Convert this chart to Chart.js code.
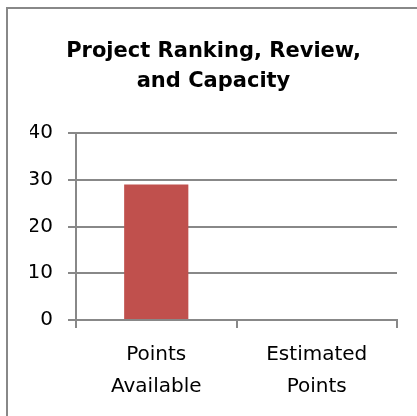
<!DOCTYPE html>
<html>
<head>
<meta charset="utf-8">
<script src="https://cdn.jsdelivr.net/npm/chart.js@4"></script>
<style>
  html, body { margin: 0; padding: 0; background: #ffffff; }
  #wrap { width: 417px; height: 416px; position: relative; }
</style>
</head>
<body>
<div id="wrap"><canvas id="c" width="417" height="416"></canvas></div>
<script>
const titleLines = ["Project Ranking, Review,", "and Capacity"];
const categories = [["Points", "Available"], ["Estimated", "Points"]];
const seriesValues = [29, 0];
const yTicks = [0, 10, 20, 30, 40];

const gray = '#888888';

const frame = {
  id: 'frame',
  afterDraw(chart) {
    const ctx = chart.ctx;
    ctx.save();
    ctx.strokeStyle = gray;
    ctx.lineWidth = 2;
    ctx.strokeRect(7, 8, 440, 440);
    ctx.restore();
  }
};

new Chart(document.getElementById('c'), {
  type: 'bar',
  data: {
    labels: categories,
    datasets: [{
      data: seriesValues,
      backgroundColor: '#C0504D',
      borderWidth: 0,
      categoryPercentage: 1.0,
      barPercentage: 0.4
    }]
  },
  options: {
    responsive: false,
    animation: false,
    layout: { padding: { left: 30, right: 20, top: 0, bottom: 0 } },
    plugins: {
      legend: { display: false },
      tooltip: { enabled: false },
      title: {
        display: true,
        text: titleLines,
        color: '#000000',
        font: { family: 'DejaVu Sans', weight: 'bold', size: 21, lineHeight: 30 / 21 },
        padding: { top: 37, bottom: 36 }
      }
    },
    scales: {
      x: {
        grid: { offset: true, drawOnChartArea: false, drawTicks: true, tickLength: 8, color: gray, lineWidth: 2 },
        border: { display: true, color: gray, width: 2 },
        ticks: {
          color: '#000000',
          padding: 11,
          maxRotation: 0,
          autoSkip: false,
          font: { family: 'DejaVu Sans', size: 20, lineHeight: 32 / 20 }
        },
        afterFit(scale) { scale.height = 96; }
      },
      y: {
        min: yTicks[0],
        max: yTicks[yTicks.length - 1],
        afterBuildTicks(scale) { scale.ticks = yTicks.map(v => ({ value: v })); },
        grid: { drawOnChartArea: true, drawTicks: true, tickLength: 8, color: gray, lineWidth: 2 },
        border: { display: true, color: gray, width: 2 },
        ticks: {
          color: '#000000',
          padding: 15,
          font: { family: 'DejaVu Sans', size: 20 }
        },
        afterFit(scale) { scale.width = 46; }
      }
    }
  },
  plugins: [frame]
});
</script>
</body>
</html>
